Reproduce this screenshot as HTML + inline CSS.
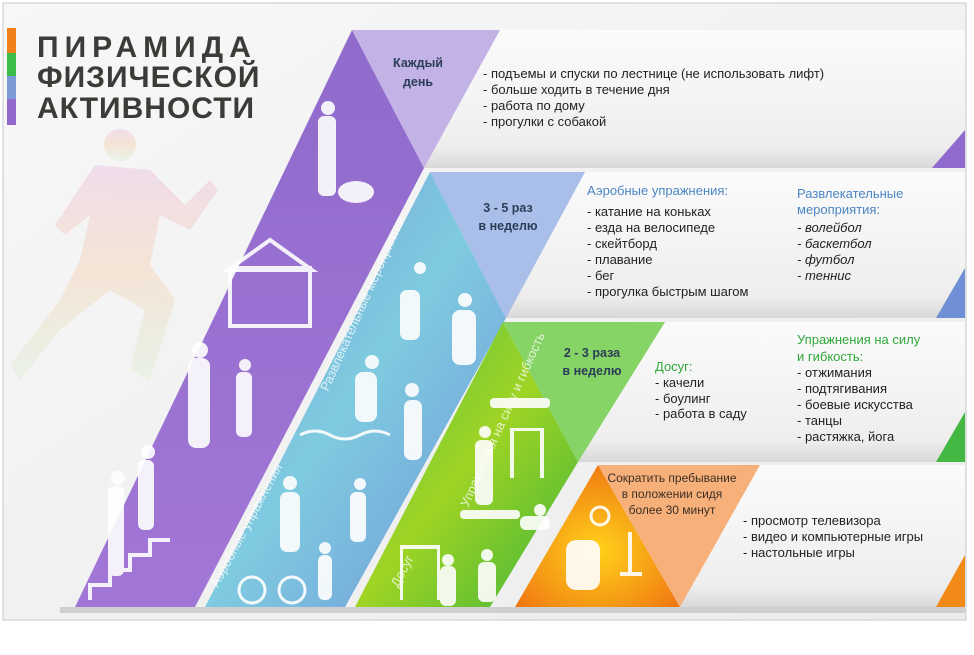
<!DOCTYPE html>
<html><head><meta charset="utf-8">
<style>
html,body{margin:0;padding:0;background:#fff;}
svg{display:block;font-family:"Liberation Sans","Noto Sans CJK SC",sans-serif;}
</style></head>
<body>
<svg width="974" height="655" viewBox="0 0 974 655" xmlns="http://www.w3.org/2000/svg">
<defs>
<linearGradient id="bg" x1="0" y1="0" x2="1" y2="1"><stop offset="0" stop-color="#f7f7f7"/><stop offset="1" stop-color="#ececec"/></linearGradient>
<linearGradient id="band" x1="0" y1="0" x2="0" y2="1"><stop offset="0" stop-color="#fbfbfb"/><stop offset="0.85" stop-color="#eeeeee"/><stop offset="1" stop-color="#d8d8d8"/></linearGradient>
<linearGradient id="gPur" x1="0" y1="0" x2="0" y2="1"><stop offset="0" stop-color="#8f6bcc"/><stop offset="1" stop-color="#a276d6"/></linearGradient>
<linearGradient id="gBlue" x1="0" y1="0" x2="1" y2="1"><stop offset="0" stop-color="#6f9ad6"/><stop offset="0.5" stop-color="#7fcbe0"/><stop offset="1" stop-color="#6f94d8"/></linearGradient>
<linearGradient id="gGreen" x1="0" y1="0" x2="1" y2="1"><stop offset="0" stop-color="#54c04a"/><stop offset="0.5" stop-color="#9fd424"/><stop offset="1" stop-color="#3fb33c"/></linearGradient>
<radialGradient id="gOr" cx="0.5" cy="0.6" r="0.6"><stop offset="0" stop-color="#ffd21a"/><stop offset="1" stop-color="#f07a12"/></radialGradient>
<linearGradient id="runner" x1="0" y1="0" x2="0" y2="1"><stop offset="0" stop-color="#ecc8e4" stop-opacity="0.55"/><stop offset="0.5" stop-color="#f4d2b0" stop-opacity="0.45"/><stop offset="1" stop-color="#d8ecd0" stop-opacity="0.35"/></linearGradient>
</defs>
<rect x="0" y="0" width="974" height="655" fill="#fff"/>
<rect x="3" y="3" width="963" height="617" fill="url(#bg)" stroke="#c8c8c8" stroke-width="1"/>

<g fill="url(#runner)">
<circle cx="120" cy="145" r="16"/>
<path d="M95 165 L150 170 L185 205 L210 180 L218 190 L190 230 L160 215 L150 265 L175 300 L150 380 L130 370 L145 310 L110 290 L60 330 L20 380 L10 365 L60 300 L80 260 L90 215 L65 235 L55 225 Z"/>
</g>

<!-- title -->
<rect x="7" y="28" width="9" height="25" fill="#f08019"/>
<rect x="7" y="53" width="9" height="23" fill="#3cbc48"/>
<rect x="7" y="76" width="9" height="23" fill="#7c9ad6"/>
<rect x="7" y="99" width="9" height="26" fill="#9368cc"/>
<g fill="#3b3b38" font-weight="bold" font-size="30">
<text x="37" y="57" letter-spacing="6">ПИРАМИДА</text>
<text x="37" y="87" letter-spacing="1">ФИЗИЧЕСКОЙ</text>
<text x="37" y="118" letter-spacing="1">АКТИВНОСТИ</text>
</g>

<!-- bands -->
<g>
<rect x="424" y="30" width="541" height="138" fill="url(#band)"/>
<polygon points="965,130 965,168 932,168" fill="#8e6bcc"/>
</g>
<g>
<rect x="506" y="172" width="459" height="146" fill="url(#band)"/>
<polygon points="965,268 965,318 936,318" fill="#6f8fd6"/>
</g>
<g>
<rect x="578" y="322" width="387" height="140" fill="url(#band)"/>
<polygon points="965,412 965,462 936,462" fill="#44b843"/>
</g>
<g>
<rect x="672" y="465" width="293" height="142" fill="url(#band)"/>
<polygon points="965,555 965,607 936,607" fill="#f28a18"/>
</g>
<rect x="60" y="607" width="905" height="6" fill="#cfcfcf"/>

<!-- pyramid tiers -->
<polygon points="352,30 424,168 195,607 75,607" fill="url(#gPur)"/>
<polygon points="352,30 500,30 424,168" fill="#c2b2e6"/>
<polygon points="430,172 506,318 345,607 205,607" fill="url(#gBlue)"/>
<polygon points="430,172 585,172 506,318" fill="#a9bfe9"/>
<polygon points="503,322 578,462 490,607 355,607" fill="url(#gGreen)"/>
<polygon points="503,322 665,322 578,462" fill="#86d466"/>
<polygon points="598,465 680,607 515,607" fill="url(#gOr)"/>
<polygon points="598,465 760,465 680,607" fill="#f8b07a"/>

<!-- silhouettes approximations -->
<g fill="#fff" opacity="0.9">
<circle cx="328" cy="108" r="7"/><rect x="318" y="116" width="18" height="80" rx="6"/>
<ellipse cx="356" cy="192" rx="18" ry="11"/>
<polygon points="228,270 270,240 312,270" fill="none" stroke="#fff" stroke-width="4"/>
<rect x="230" y="268" width="80" height="58" fill="none" stroke="#fff" stroke-width="4"/>
<circle cx="200" cy="350" r="8"/><rect x="188" y="358" width="22" height="90" rx="8"/>
<circle cx="245" cy="365" r="6"/><rect x="236" y="372" width="16" height="65" rx="6"/>
<circle cx="148" cy="452" r="7"/><rect x="138" y="460" width="16" height="70" rx="6"/>
<circle cx="118" cy="478" r="7"/><rect x="108" y="486" width="16" height="90" rx="6"/>
<polyline points="90,600 90,585 110,585 110,570 130,570 130,555 150,555 150,540 170,540" fill="none" stroke="#fff" stroke-width="4"/>
<circle cx="420" cy="268" r="6"/><rect x="400" y="290" width="20" height="50" rx="7"/>
<circle cx="465" cy="300" r="7"/><rect x="452" y="310" width="24" height="55" rx="8"/>
<circle cx="372" cy="362" r="7"/><rect x="355" y="372" width="22" height="50" rx="8"/>
<circle cx="412" cy="390" r="7"/><rect x="404" y="400" width="18" height="60" rx="7"/>
<path d="M300 435 q15 -8 30 0 t30 0 t30 0" fill="none" stroke="#fff" stroke-width="3"/>
<circle cx="290" cy="483" r="7"/><rect x="280" y="492" width="20" height="60" rx="7"/>
<circle cx="360" cy="484" r="6"/><rect x="350" y="492" width="16" height="50" rx="6"/>
<circle cx="252" cy="590" r="13" fill="none" stroke="#fff" stroke-width="3"/><circle cx="292" cy="590" r="13" fill="none" stroke="#fff" stroke-width="3"/>
<circle cx="325" cy="548" r="6"/><rect x="318" y="555" width="14" height="45" rx="6"/>
<rect x="490" y="398" width="60" height="10" rx="4"/>
<rect x="510" y="428" width="4" height="50"/><rect x="540" y="428" width="4" height="50"/><rect x="510" y="428" width="34" height="3"/>
<circle cx="485" cy="432" r="6"/><rect x="475" y="440" width="18" height="65" rx="6"/>
<rect x="460" y="510" width="60" height="9" rx="4"/>
<circle cx="540" cy="510" r="6"/><rect x="520" y="516" width="30" height="14" rx="6"/>
<rect x="400" y="545" width="40" height="4"/><rect x="400" y="545" width="3" height="55"/><rect x="437" y="545" width="3" height="55"/>
<circle cx="448" cy="560" r="6"/><rect x="440" y="566" width="16" height="40" rx="6"/>
<circle cx="487" cy="555" r="6"/><rect x="478" y="562" width="18" height="40" rx="6"/>
<circle cx="600" cy="516" r="9" fill="none" stroke="#fff" stroke-width="3"/>
<rect x="566" y="540" width="34" height="50" rx="10"/>
<rect x="628" y="532" width="4" height="40"/><rect x="620" y="572" width="22" height="4"/>
</g>

<!-- rotated labels -->
<g fill="#fff" opacity="0.75" font-size="13">
<text transform="translate(328,392) rotate(-66)">Развлекательные мероприятия</text>
<text transform="translate(218,588) rotate(-62)">Аэробные упражнения</text>
<text transform="translate(468,508) rotate(-66)">Упражнения на силу и гибкость</text>
<text transform="translate(398,588) rotate(-62)">Досуг</text>
</g>

<!-- tier 1 text -->
<g fill="#2b3d57" font-weight="bold" font-size="12.5" text-anchor="middle">
<text x="418" y="67">Каждый</text><text x="418" y="86">день</text>
</g>
<g fill="#222" font-size="13">
<text x="483" y="78">- подъемы и спуски по лестнице (не использовать лифт)</text>
<text x="483" y="94">- больше ходить в течение дня</text>
<text x="483" y="110">- работа по дому</text>
<text x="483" y="126">- прогулки с собакой</text>
</g>

<!-- tier 2 text -->
<g fill="#2b3d57" font-weight="bold" font-size="12.5" text-anchor="middle">
<text x="508" y="212">3 - 5 раз</text><text x="508" y="230">в неделю</text>
</g>
<g font-size="13">
<text x="587" y="195" fill="#4b86c4">Аэробные упражнения:</text>
<g fill="#222">
<text x="587" y="216">- катание на коньках</text>
<text x="587" y="232">- езда на велосипеде</text>
<text x="587" y="248">- скейтборд</text>
<text x="587" y="264">- плавание</text>
<text x="587" y="280">- бег</text>
<text x="587" y="296">- прогулка быстрым шагом</text>
</g></g>
<g font-size="13">
<text x="797" y="198" fill="#4b86c4">Развлекательные</text>
<text x="797" y="214" fill="#4b86c4">мероприятия:</text>
<g fill="#222" font-style="italic">
<text x="797" y="232">- волейбол</text>
<text x="797" y="248">- баскетбол</text>
<text x="797" y="264">- футбол</text>
<text x="797" y="280">- теннис</text>
</g></g>

<!-- tier 3 text -->
<g fill="#2b3d57" font-weight="bold" font-size="12.5" text-anchor="middle">
<text x="592" y="357">2 - 3 раза</text><text x="592" y="375">в неделю</text>
</g>
<g font-size="13">
<text x="655" y="371" fill="#2fa83a">Досуг:</text>
<g fill="#222">
<text x="655" y="387">- качели</text>
<text x="655" y="403">- боулинг</text>
<text x="655" y="418">- работа в саду</text>
</g></g>
<g font-size="13">
<text x="797" y="344" fill="#2fa83a">Упражнения на силу</text>
<text x="797" y="361" fill="#2fa83a">и гибкость:</text>
<g fill="#222">
<text x="797" y="377">- отжимания</text>
<text x="797" y="393">- подтягивания</text>
<text x="797" y="409">- боевые искусства</text>
<text x="797" y="425">- танцы</text>
<text x="797" y="441">- растяжка, йога</text>
</g></g>

<!-- tier 4 text -->
<g fill="#3a3024" font-size="12" text-anchor="middle">
<text x="672" y="482">Сократить пребывание</text>
<text x="672" y="498">в положении сидя</text>
<text x="672" y="514">более 30 минут</text>
</g>
<g fill="#222" font-size="13">
<text x="743" y="525">- просмотр телевизора</text>
<text x="743" y="541">- видео и компьютерные игры</text>
<text x="743" y="557">- настольные игры</text>
</g>
</svg>
</body></html>
